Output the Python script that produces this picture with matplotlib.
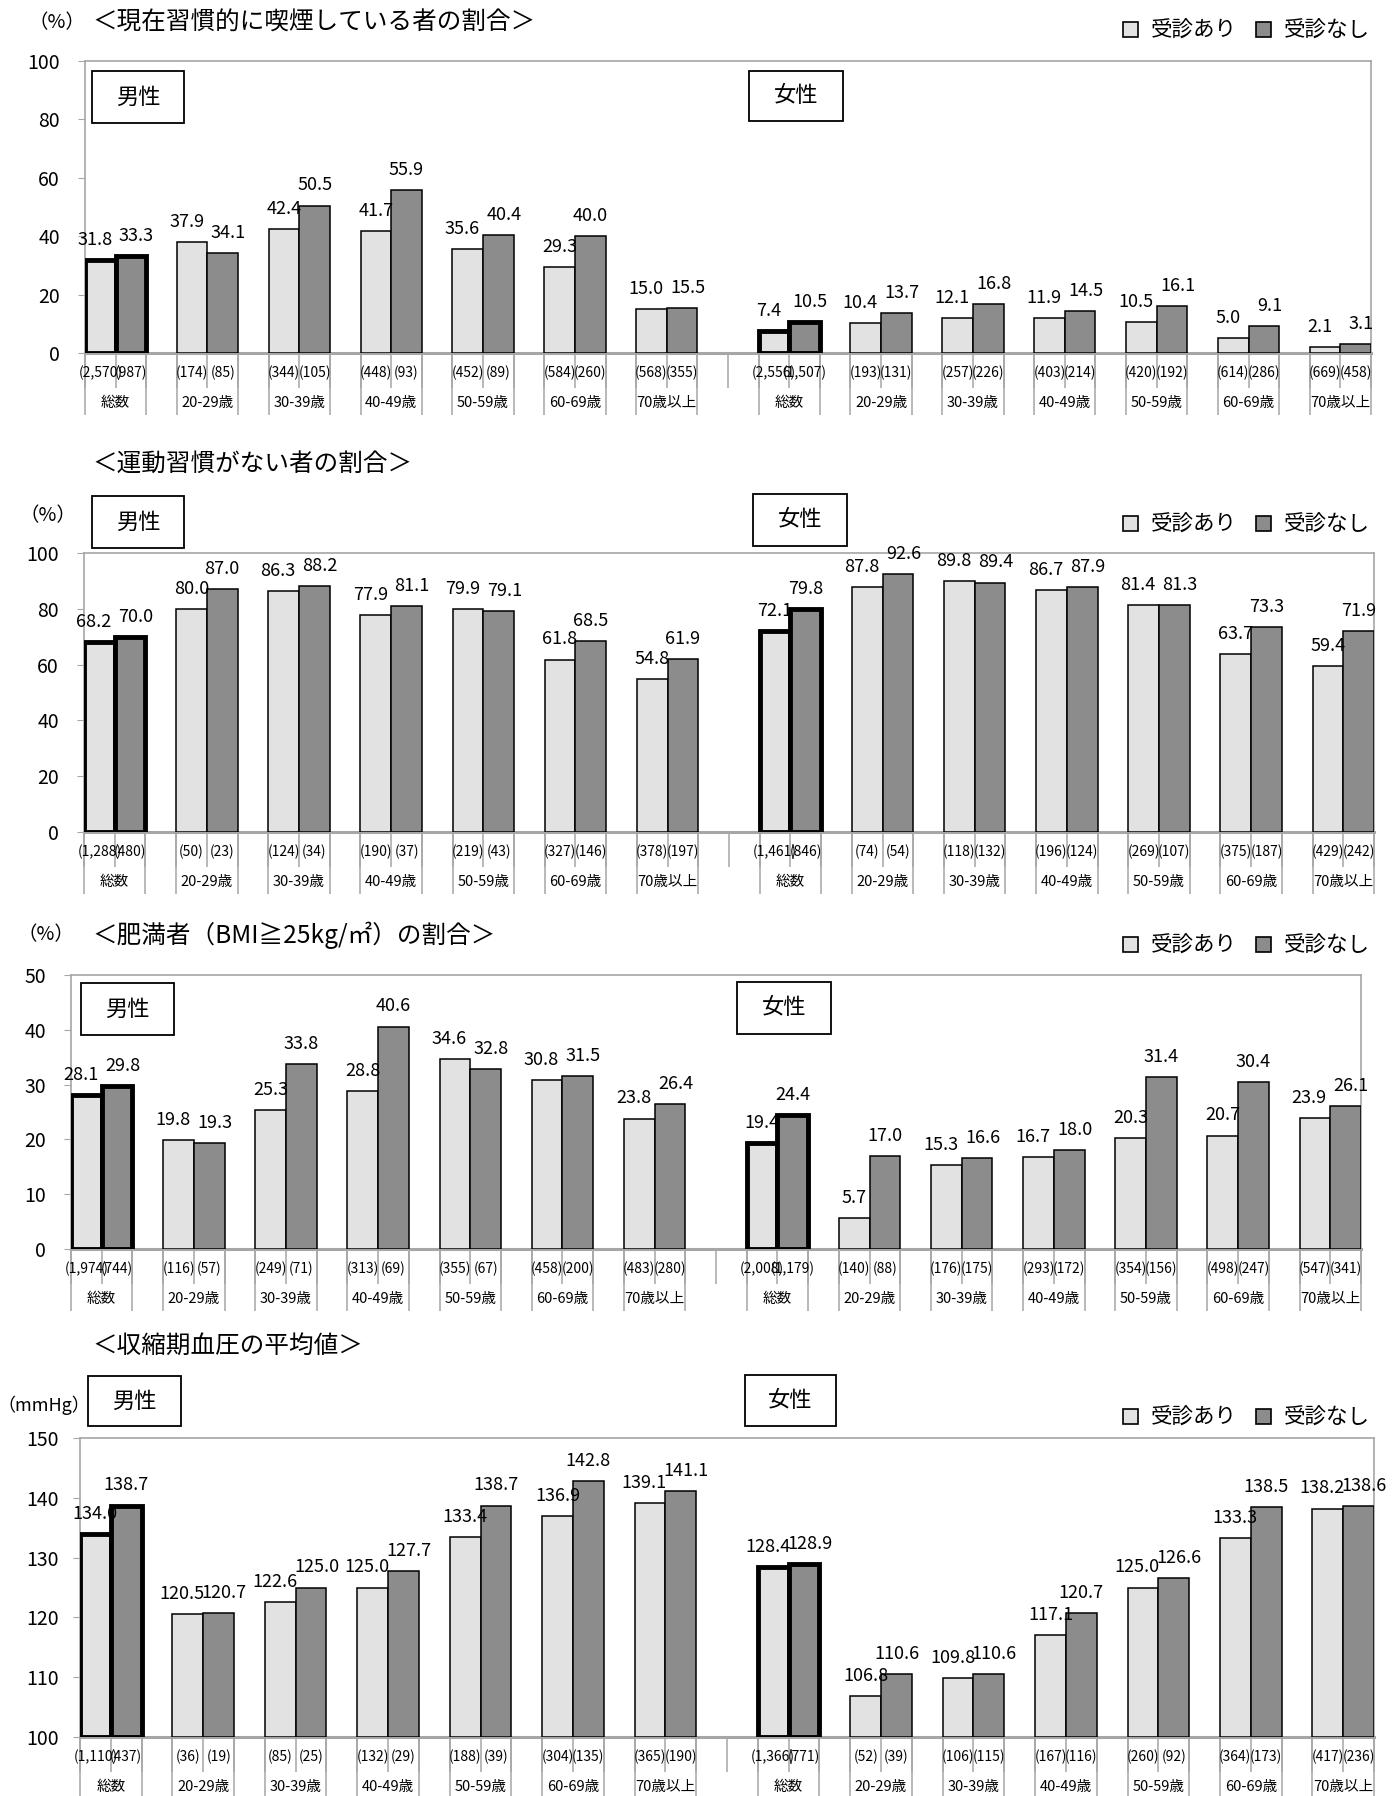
import numpy as np
import matplotlib
matplotlib.use('Agg')
from matplotlib import pyplot as plt
from matplotlib.patches import Rectangle, Patch

plt.rcParams['font.family'] = ['Noto Sans CJK JP', 'DejaVu Sans']

W, H = 1392, 1796

ages = ['総数', '20-29歳', '30-39歳', '40-49歳', '50-59歳', '60-69歳', '70歳以上']

# 現在習慣的に喫煙している者の割合
smoke_m_yes = [31.8, 37.9, 42.4, 41.7, 35.6, 29.3, 15.0]
smoke_m_no = [33.3, 34.1, 50.5, 55.9, 40.4, 40.0, 15.5]
smoke_f_yes = [7.4, 10.4, 12.1, 11.9, 10.5, 5.0, 2.1]
smoke_f_no = [10.5, 13.7, 16.8, 14.5, 16.1, 9.1, 3.1]
smoke_m_n = ['(2,570)', '(987)', '(174)', '(85)', '(344)', '(105)', '(448)', '(93)',
             '(452)', '(89)', '(584)', '(260)', '(568)', '(355)']
smoke_f_n = ['(2,556)', '(1,507)', '(193)', '(131)', '(257)', '(226)', '(403)', '(214)',
             '(420)', '(192)', '(614)', '(286)', '(669)', '(458)']

# 運動習慣がない者の割合
exer_m_yes = [68.2, 80.0, 86.3, 77.9, 79.9, 61.8, 54.8]
exer_m_no = [70.0, 87.0, 88.2, 81.1, 79.1, 68.5, 61.9]
exer_f_yes = [72.1, 87.8, 89.8, 86.7, 81.4, 63.7, 59.4]
exer_f_no = [79.8, 92.6, 89.4, 87.9, 81.3, 73.3, 71.9]
exer_m_n = ['(1,288)', '(480)', '(50)', '(23)', '(124)', '(34)', '(190)', '(37)',
            '(219)', '(43)', '(327)', '(146)', '(378)', '(197)']
exer_f_n = ['(1,461)', '(846)', '(74)', '(54)', '(118)', '(132)', '(196)', '(124)',
            '(269)', '(107)', '(375)', '(187)', '(429)', '(242)']

# 肥満者の割合
bmi_m_yes = [28.1, 19.8, 25.3, 28.8, 34.6, 30.8, 23.8]
bmi_m_no = [29.8, 19.3, 33.8, 40.6, 32.8, 31.5, 26.4]
bmi_f_yes = [19.4, 5.7, 15.3, 16.7, 20.3, 20.7, 23.9]
bmi_f_no = [24.4, 17.0, 16.6, 18.0, 31.4, 30.4, 26.1]
bmi_m_n = ['(1,974)', '(744)', '(116)', '(57)', '(249)', '(71)', '(313)', '(69)',
           '(355)', '(67)', '(458)', '(200)', '(483)', '(280)']
bmi_f_n = ['(2,008)', '(1,179)', '(140)', '(88)', '(176)', '(175)', '(293)', '(172)',
           '(354)', '(156)', '(498)', '(247)', '(547)', '(341)']

# 収縮期血圧の平均値
bp_m_yes = [134.0, 120.5, 122.6, 125.0, 133.4, 136.9, 139.1]
bp_m_no = [138.7, 120.7, 125.0, 127.7, 138.7, 142.8, 141.1]
bp_f_yes = [128.4, 106.8, 109.8, 117.1, 125.0, 133.3, 138.2]
bp_f_no = [128.9, 110.6, 110.6, 120.7, 126.6, 138.5, 138.6]
bp_m_n = ['(1,110)', '(437)', '(36)', '(19)', '(85)', '(25)', '(132)', '(29)',
          '(188)', '(39)', '(304)', '(135)', '(365)', '(190)']
bp_f_n = ['(1,366)', '(771)', '(52)', '(39)', '(106)', '(115)', '(167)', '(116)',
          '(260)', '(92)', '(364)', '(173)', '(417)', '(236)']

C_YES = '#e2e2e2'
C_NO = '#8c8c8c'
GRAY = '#a6a6a6'

fig = plt.figure(figsize=(W / 100, H / 100), dpi=100)


def px_axes(l, r, t, b):
    return fig.add_axes([l / W, 1 - b / H, (r - l) / W, (b - t) / H])


def box(x0, y0, x1, y1, txt):
    fig.add_artist(Rectangle((x0 / W, 1 - y1 / H), (x1 - x0) / W, (y1 - y0) / H,
                             transform=fig.transFigure, fill=False, ec='black', lw=1.3))
    fig.text((x0 + x1) / 2 / W, 1 - (y0 + y1) / 2 / H, txt, ha='center', va='center', fontsize=16)


def panel(ax, m_yes, m_no, f_yes, f_no, m_n, f_n, ylim, yticks, pad, base=0):
    g = np.arange(7)
    xl = np.concatenate([3 * g, 22 + 3 * g]) + 0.5
    xr = xl + 1
    yes = np.array(m_yes + f_yes)
    no = np.array(m_no + f_no)
    lw = [3.5 if i % 7 == 0 else 1.1 for i in range(14)]
    ax.bar(xl, yes - base, bottom=base, width=1, color=C_YES, edgecolor='black', linewidth=lw, zorder=3)
    ax.bar(xr, no - base, bottom=base, width=1, color=C_NO, edgecolor='black', linewidth=lw, zorder=3)
    span = ylim[1] - ylim[0]
    for i in range(14):
        # 高さが近いラベルは左右に少しずらす
        dx = 4 if abs(yes[i] - no[i]) < 0.06 * span else 0
        ax.annotate('%.1f' % yes[i], (xl[i], yes[i]), xytext=(-dx, 8), textcoords='offset points',
                    ha='center', va='bottom', fontsize=13)
        ax.annotate('%.1f' % no[i], (xr[i], no[i]), xytext=(dx, 8), textcoords='offset points',
                    ha='center', va='bottom', fontsize=13)
    ax.set_xlim(0, 42)
    ax.set_ylim(*ylim)
    ax.set_yticks(yticks)
    ax.set_xticks([])
    ax.tick_params(axis='y', length=5, color=GRAY, labelsize=14, pad=pad)
    for s in ax.spines.values():
        s.set_color(GRAY)
        s.set_linewidth(1.2)
    ax.spines['bottom'].set_linewidth(2.2)

    # 2段のカテゴリ軸
    axh = ax.get_position().height * H
    tr = ax.get_xaxis_transform()
    ax.vlines(np.arange(43), -35 / axh, 0, transform=tr, color=GRAY, lw=1.1, clip_on=False)
    glines = [b for b in range(21) if b % 3 != 1] + [b for b in range(22, 43) if (b - 22) % 3 != 1]
    ax.vlines(glines, -62 / axh, 0, transform=tr, color=GRAY, lw=1.1, clip_on=False)
    labs = m_n + f_n
    xs = np.ravel(np.column_stack([xl, xr]))
    for x, t in zip(xs, labs):
        ax.text(x, -20 / axh, t, transform=tr, ha='center', va='center', fontsize=10)
    for i, a in enumerate(ages + ages):
        ax.text(xr[i] - 0.5, -50 / axh, a, transform=tr, ha='center', va='center', fontsize=10.5)


def legend(y):
    h = [Patch(fc=C_YES, ec='black', lw=1.2, label='受診あり'),
         Patch(fc=C_NO, ec='black', lw=1.2, label='受診なし')]
    fig.legend(handles=h, loc='center right', bbox_to_anchor=(1370 / W, 1 - y / H), ncol=2,
               frameon=False, fontsize=15.5, handlelength=0.7, handleheight=0.7,
               handletextpad=0.6, columnspacing=0.9, borderaxespad=0, borderpad=0)


def title(x, y, txt, unit, ux, uy, usize=14):
    fig.text(ux / W, 1 - uy / H, unit, ha='center', va='center', fontsize=usize)
    fig.text(x / W, 1 - y / H, txt, ha='left', va='center', fontsize=17.7)


# 1. 喫煙
ax1 = px_axes(85, 1371, 61, 353)
panel(ax1, smoke_m_yes, smoke_m_no, smoke_f_yes, smoke_f_no, smoke_m_n, smoke_f_n,
      (0, 100), range(0, 101, 20), pad=13)
title(92, 23, '＜現在習慣的に喫煙している者の割合＞', '（%）', 57, 23)
legend(31)
box(92, 71, 184, 123, '男性')
box(749, 71, 843, 121, '女性')

# 2. 運動
ax2 = px_axes(84, 1374, 553, 832)
panel(ax2, exer_m_yes, exer_m_no, exer_f_yes, exer_f_no, exer_m_n, exer_f_n,
      (0, 100), range(0, 101, 20), pad=13)
title(92, 464, '＜運動習慣がない者の割合＞', '（%）', 48, 516)
legend(525)
box(92, 496, 184, 548, '男性')
box(753, 494, 847, 546, '女性')

# 3. 肥満
ax3 = px_axes(71, 1361, 975, 1249)
panel(ax3, bmi_m_yes, bmi_m_no, bmi_f_yes, bmi_f_no, bmi_m_n, bmi_f_n,
      (0, 50), range(0, 51, 10), pad=13)
title(92, 935, '＜肥満者（BMI≧25kg/㎡）の割合＞', '（%）', 46, 935)
legend(946)
box(81, 983, 174, 1035, '男性')
box(737, 982, 831, 1034, '女性')

# 4. 血圧
ax4 = px_axes(80, 1374, 1438, 1737)
panel(ax4, bp_m_yes, bp_m_no, bp_f_yes, bp_f_no, bp_m_n, bp_f_n,
      (100, 150), range(100, 151, 10), pad=10, base=100)
title(92, 1346, '＜収縮期血圧の平均値＞', '（mmHg）', 44, 1405, usize=13)
legend(1418)
box(88, 1376, 181, 1426, '男性')
box(745, 1375, 836, 1426, '女性')

fig.savefig('out.png', dpi=100)
